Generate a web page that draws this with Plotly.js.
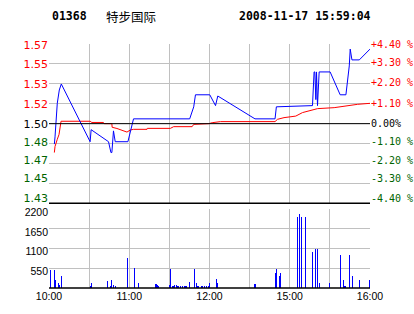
<!DOCTYPE html>
<html>
<head>
<meta charset="utf-8">
<script src="https://cdn.plot.ly/plotly-3.0.1.min.js"></script>
<style>html,body{margin:0;padding:0;background:#fff;}#chart{width:414px;height:314px;}</style>
</head>
<body>
<div id="chart"></div>
<script>
// ---- data ----
var stockCode = "01368";
var stockName = "特步国际";
var stamp = "2008-11-17 15:59:04";
var prevClose = 1.505;

// minutes since 10:00 on a trading-time axis (lunch removed)
var priceMinutes = [4,4.5,6.2,7,7.7,9.2,30.75,31.5,44.5,46.3,47,48.2,49.5,59,60.75,63.2,105.2,108.2,109.5,120.2,124.5,126.2,154,169,170,197,198.2,198.75,199.5,200,200.75,202,210.2,217.7,222,224.5,225.2,226.5,232,240];
var prices = [1.488,1.494,1.522,1.528,1.533,1.538,1.490,1.500,1.490,1.481,1.481,1.499,1.490,1.490,1.498,1.509,1.509,1.519,1.529,1.529,1.520,1.528,1.509,1.509,1.519,1.520,1.548,1.548,1.525,1.548,1.520,1.548,1.548,1.529,1.529,1.553,1.567,1.558,1.558,1.567];

var avgMinutes = [4,4.5,6.2,7.5,9,30.75,32,40.7,41.2,47,47.2,50.8,58.3,60.75,63.2,73.3,73.5,90.75,93.2,107,108.2,119.5,122,128.25,169,170.8,175.7,184.5,189.5,193.3,200.75,213.2,224.5,230.8,240];
var avgPrices = [1.481,1.486,1.492,1.496,1.507,1.507,1.506,1.506,1.505,1.505,1.502,1.501,1.498,1.4997,1.5003,1.5003,1.5011,1.5011,1.5025,1.5025,1.5044,1.505,1.5058,1.5067,1.5067,1.5086,1.510,1.5113,1.5142,1.5155,1.5175,1.5183,1.5202,1.5211,1.5219];

var volMinutes = [1,4,5,7,8,9,31,32,44,46,47,48,50,59,64,67,80,81,82,90,91,92,93,94,95,96,97,98,100,101,102,103,105,109,110,111,112,114,115,116,118,119,120,125,126,154,169,170,172,173,186,187,189,192,197,199,201,202,210,218,220,221,222,225,227,232,239.5];
var volumes = [500,500,230,140,90,340,60,140,200,60,230,90,60,850,570,150,120,90,60,90,540,60,60,90,90,60,60,60,60,60,60,60,176,540,150,60,60,60,60,60,60,60,150,260,150,120,430,540,340,430,1990,2070,1990,1990,1010,1090,1090,150,150,930,230,60,60,930,340,230,230];

var timeTickMinutes = [0,30,60,90,120,150,180,210,240];
var timeTickText = ["10:00","","11:00","","12:00","","15:00","","16:00"];
var priceLabels = ["1.43","1.45","1.47","1.48","1.50","1.52","1.53","1.55","1.57"];
var pctLabels = ["-4.40 %","-3.30 %","-2.20 %","-1.10 %","0.00%","+1.10 %","+2.20 %","+3.30 %","+4.40 %"];
var pctSteps = [-4,-3,-2,-1,0,1,2,3,4];
var volTicks = [550,1100,1650,2200];

// ---- layout constants ----
var RED = "#ff0000", GREEN = "#006400", BLACK = "#000000", GRID = "#c0c0c0";
var M = {l:49, r:44, t:44, b:26};
var plotH = 314 - M.t - M.b, plotW = 414 - M.l - M.r;
var priceDomain = [0.347, 1], volDomain = [0, 0.3225];
// label offsets from their gridlines in pixels (positive = up), as drawn in the reference
var leftLabelShiftPx  = [5.6, 5.3, 3.3, 1.6, 0, 0, 0, 0, -1.4];
var rightLabelShiftPx = [5.0, 5.3, 3.3, 2.3, 0, 0, 1.0, 1.0, -0.7];

// ---- build ----
var tickVals = pctSteps.map(function(k){ return prevClose * (1 + k * 0.011); });
var yRange = [prevClose * 0.956, prevClose * 1.044];
var unitsPerPx = (yRange[1] - yRange[0]) / (plotH * (priceDomain[1] - priceDomain[0]));
var leftLabelVals = tickVals.map(function(v,i){ return v + leftLabelShiftPx[i] * unitsPerPx; });
var rightLabelVals = tickVals.map(function(v,i){ return v + rightLabelShiftPx[i] * unitsPerPx; });
function colorFor(k){ return k > 0 ? RED : (k < 0 ? GREEN : BLACK); }
var priceTickText = priceLabels.map(function(t,i){ return '<span style="color:' + colorFor(pctSteps[i]) + '">' + t + '</span>'; });
var pctTickText = pctLabels.map(function(t,i){ return '<span style="color:' + colorFor(pctSteps[i]) + '">' + t + '</span>'; });

var traces = [
  {type:'bar', x:volMinutes, y:volumes, xaxis:'x', yaxis:'y2', width:0.8,
   marker:{color:'#0000ff', line:{width:0}}, hoverinfo:'skip'},
  {type:'scatter', mode:'lines', x:avgMinutes, y:avgPrices, xaxis:'x2', yaxis:'y',
   line:{color:RED, width:1}, hoverinfo:'skip'},
  {type:'scatter', mode:'lines', x:priceMinutes, y:prices, xaxis:'x2', yaxis:'y',
   line:{color:'#0000ff', width:1}, hoverinfo:'skip'},
  {type:'scatter', mode:'markers', x:[0], y:[prevClose], xaxis:'x2', yaxis:'y3',
   marker:{size:1, opacity:0}, hoverinfo:'skip', showlegend:false},
  {type:'scatter', mode:'markers', x:[0], y:[prevClose], xaxis:'x2', yaxis:'y4',
   marker:{size:1, opacity:0}, hoverinfo:'skip', showlegend:false}
];

var axisX = {range:[0,240], tickmode:'array', tickvals:timeTickMinutes, ticktext:timeTickText,
  showgrid:true, gridcolor:GRID, gridwidth:1, zeroline:false, showline:false, ticks:'',
  tickfont:{family:'Liberation Sans, Arial, sans-serif', size:10.5, color:BLACK}, fixedrange:true};

var layout = {
  width:414, height:314,
  margin:M,
  paper_bgcolor:'#ffffff', plot_bgcolor:'#ffffff',
  showlegend:false, bargap:0,
  xaxis: Object.assign({}, axisX, {anchor:'y2'}),
  xaxis2: Object.assign({}, axisX, {anchor:'y', matches:'x', showticklabels:false}),
  yaxis: {domain:priceDomain, anchor:'x2', range:yRange, tickmode:'array', tickvals:tickVals,
    showticklabels:false, showgrid:true, gridcolor:GRID, zeroline:false, ticks:''},
  yaxis4: {overlaying:'y', side:'left', anchor:'x2', range:yRange, tickmode:'array', tickvals:leftLabelVals, ticktext:priceTickText,
    showgrid:false, zeroline:false, ticks:'',
    tickfont:{family:'DejaVu Sans, Verdana, sans-serif', size:11, color:BLACK}},
  yaxis3: {overlaying:'y', side:'right', anchor:'x2', range:yRange, tickmode:'array', tickvals:rightLabelVals, ticktext:pctTickText,
    showgrid:false, zeroline:false, ticks:'',
    tickfont:{family:'DejaVu Sans Mono, monospace', size:10, color:BLACK}},
  yaxis2: {domain:volDomain, anchor:'x', range:[0,2200], tickmode:'array', tickvals:volTicks,
    showgrid:true, gridcolor:GRID, zeroline:false, ticks:'', ticklabelshift:3,
    tickfont:{family:'Liberation Sans, Arial, sans-serif', size:10.5, color:BLACK}},
  shapes:[
    {type:'line', xref:'paper', x0:0, x1:1, yref:'y', y0:prevClose, y1:prevClose, line:{color:BLACK, width:1}},
    {type:'line', xref:'paper', x0:0, x1:1, yref:'y domain', y0:0, y1:0, line:{color:BLACK, width:1.5}},
    {type:'line', xref:'paper', x0:0, x1:1, yref:'y2 domain', y0:0, y1:0, line:{color:BLACK, width:1.5}}
  ],
  annotations:[
    {xref:'paper', yref:'paper', x:(50-M.l)/plotW, y:(314-M.b-16)/plotH, xanchor:'left', yanchor:'middle', showarrow:false,
     text:'<b>'+stockCode+'</b>', font:{family:'DejaVu Sans Mono, monospace', size:11.5, color:BLACK}},
    {xref:'paper', yref:'paper', x:(104-M.l)/plotW, y:(314-M.b-16)/plotH, xanchor:'left', yanchor:'middle', showarrow:false,
     text:stockName, font:{family:'Noto Sans CJK SC, sans-serif', size:12.5, color:BLACK}},
    {xref:'paper', yref:'paper', x:(237-M.l)/plotW, y:(314-M.b-16)/plotH, xanchor:'left', yanchor:'middle', showarrow:false,
     text:'<b>'+stamp+'</b>', font:{family:'DejaVu Sans Mono, monospace', size:11.5, color:BLACK}}
  ]
};

Plotly.newPlot('chart', traces, layout, {staticPlot:true, displayModeBar:false});
</script>
</body>
</html>
